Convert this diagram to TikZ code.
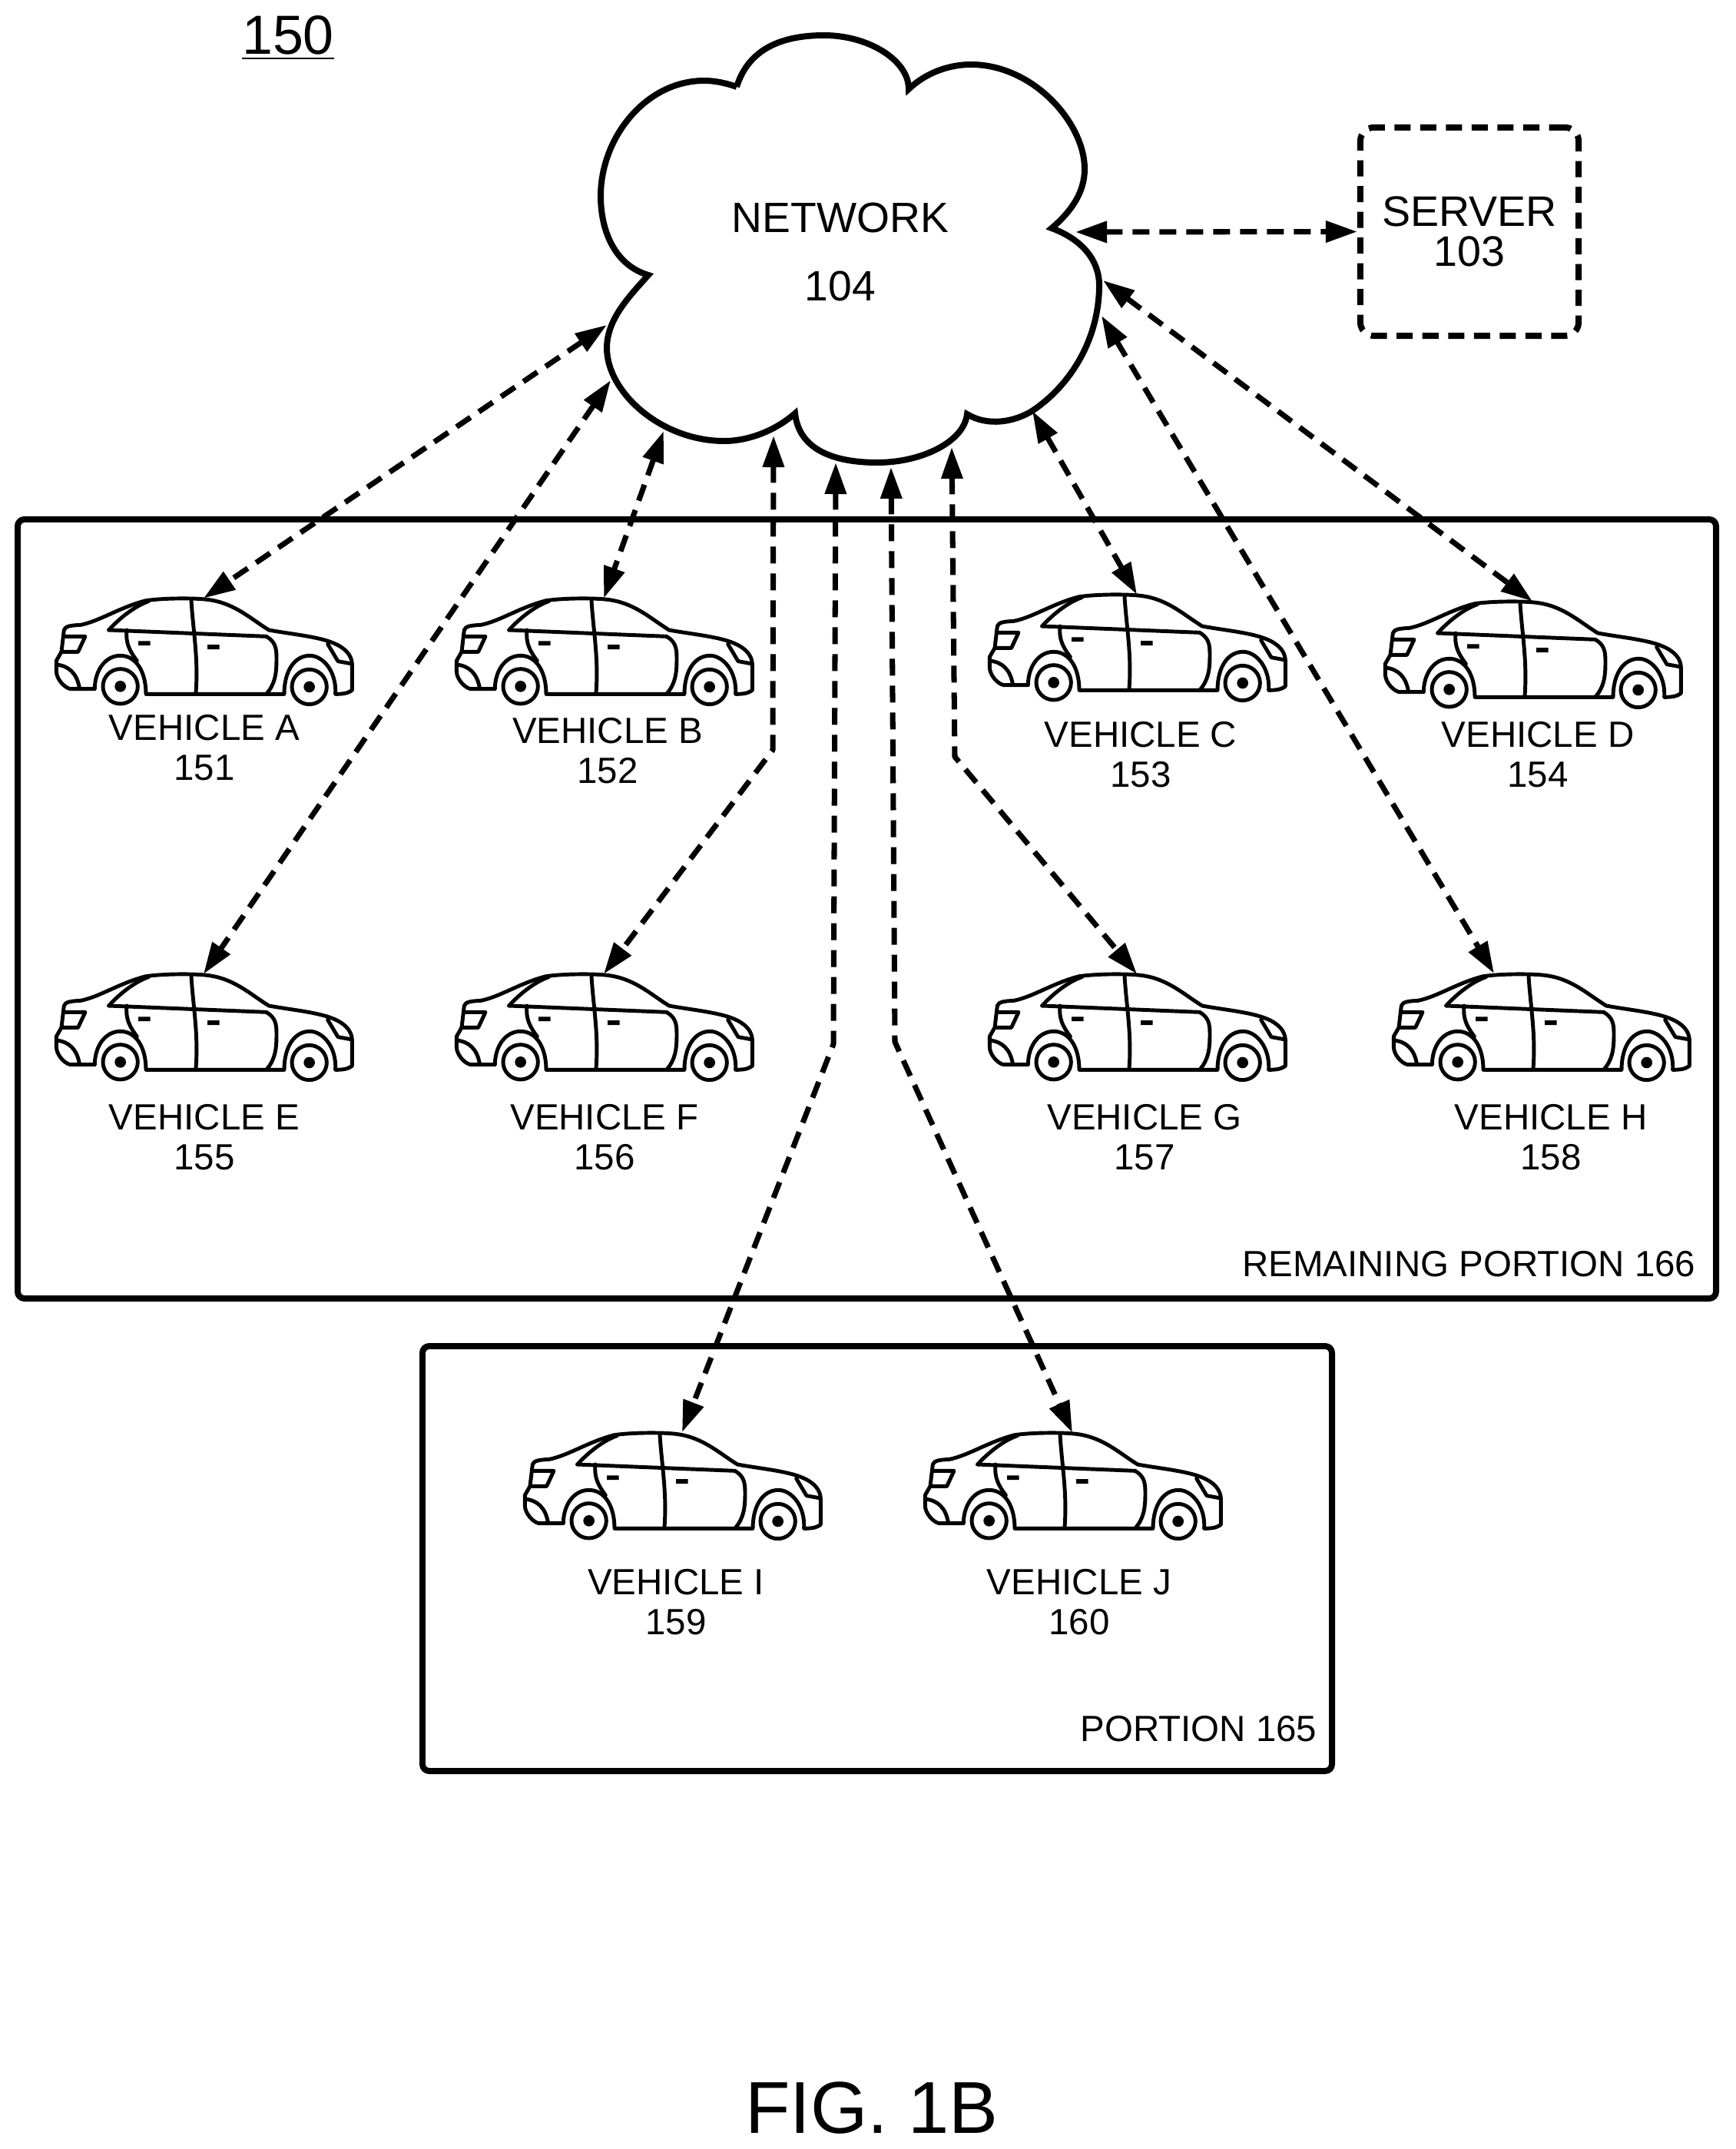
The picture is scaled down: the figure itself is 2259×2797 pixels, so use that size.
\documentclass[tikz,border=0pt]{standalone}
\usepackage{fontspec}
\setmainfont{Liberation Sans}
\usetikzlibrary{arrows.meta, positioning}
\tikzset{
  x=0.01cm,
  y=-0.01cm,
  >={Triangle[length=0.41cm, width=0.27cm]},
  box/.style={line width=2.27pt, rounded corners=2.5pt},
  link/.style={<->, line width=2pt, line join=round, dash pattern=on 0.22cm off 0.13cm},
  caption/.style={font=\fontsize{13.5}{14.7}\selectfont, align=center, inner sep=0pt},
  car/.pic={
    \begin{scope}[scale=1/3, line width=1.4pt, line join=round, line cap=round]
      \draw (100,240) .. controls (105,225) and (125,222) .. (165,220)
        .. controls (240,205) and (320,150) .. (420,125) .. controls (490,115) and (600,115) .. (650,120)
        .. controls (760,130) and (820,190) .. (900,240) .. controls (980,255) and (1090,265) .. (1150,290)
        .. controls (1200,310) and (1225,340) .. (1225,375) -- (1225,475) .. controls (1205,490) and (1180,490) .. (1160,490)
        .. controls (1165,400) and (1110,340) .. (1060,340) .. controls (1000,340) and (960,400) .. (960,490)
        -- (420,490) .. controls (420,400) and (380,340) .. (320,340) .. controls (260,340) and (220,400) .. (220,470)
        -- (125,470) .. controls (100,465) and (70,430) .. (70,400) -- (70,360) -- (90,325) -- cycle;
      \draw (275,240) .. controls (320,190) and (380,145) .. (430,128);
      \draw (275,240) -- (890,265);
      \draw (597,125) .. controls (605,250) and (625,350) .. (615,485);
      \draw (345,240) .. controls (340,290) and (355,320) .. (385,360);
      \draw (890,265) .. controls (925,285) and (930,310) .. (930,350) .. controls (930,410) and (925,450) .. (890,490);
      \draw (105,265) -- (183,265) -- (155,325) -- (90,325);
      \draw (70,375) .. controls (120,380) and (150,410) .. (160,465);
      \draw (1130,295) -- (1170,362) -- (1225,372);
      \fill (390,283) rectangle (437,300) (660,297) rectangle (707,315);
      \draw (320,460) circle (68);
      \fill (320,460) circle (22);
      \draw (1058,462) circle (68);
      \fill (1058,462) circle (22);
      \coordinate (-roof) at (645,116);
    \end{scope}
  }
}
\begin{document}
\begin{tikzpicture}
    \useasboundingbox (0,0) rectangle (2259,2797);

    \node[font=\fontsize{20.4}{24}\selectfont, inner sep=0pt] (fig) at (375,49) {\underline{150}};

    % network
    \draw[line width=2.27pt, miter limit=4] (959,113) .. controls (975,62) and (1020,46) .. (1073,46)
      .. controls (1130,46) and (1183,78) .. (1183,116)
      .. controls (1205,95) and (1235,84) .. (1264,84)
      .. controls (1345,84) and (1412,160) .. (1412,220)
      .. controls (1412,250) and (1395,275) .. (1369,297)
      .. controls (1410,312) and (1431,340) .. (1431,371)
      .. controls (1431,440) and (1395,500) .. (1345,534)
      .. controls (1320,550) and (1285,555) .. (1259,539)
      .. controls (1255,575) and (1200,602) .. (1142,602)
      .. controls (1085,602) and (1040,585) .. (1035,538)
      .. controls (1010,560) and (975,574) .. (943,574)
      .. controls (860,574) and (790,510) .. (790,453)
      .. controls (790,415) and (820,385) .. (844,358)
      .. controls (800,345) and (782,300) .. (782,255)
      .. controls (782,180) and (840,105) .. (917,105)
      .. controls (930,105) and (945,108) .. (959,113);
    \node[font=\fontsize{15.7}{18}\selectfont, inner sep=0pt] (network) at (1094,283) {NETWORK};
    \node[font=\fontsize{15.7}{18}\selectfont, inner sep=0pt] (networknum) at (1094,372) {104};

    \node[draw, box, rounded corners=5pt, dash pattern=on 0.21cm off 0.125cm, minimum width=2.84cm, minimum height=2.71cm,
      font=\fontsize{15.8}{14.7}\selectfont, align=center] (server) at (1913,301.5) {SERVER\\103};

    % portions
    \draw[box] (23,676) rectangle (2234,1690);
    \draw[box] (550,1752) rectangle (1734,2305);
    \node[caption, anchor=east] (remaining) at (2208,1645) {REMAINING PORTION 166};
    \node[caption, anchor=east] (portion) at (1715,2250) {PORTION 165};

    % vehicles
    \pic (carA) at (50,740) {car};
    \pic (carB) at (571,740) {car};
    \pic (carC) at (1265,735) {car};
    \pic (carD) at (1780,744) {car};
    \pic (carE) at (50,1229) {car};
    \pic (carF) at (571,1229) {car};
    \pic (carG) at (1265,1229) {car};
    \pic (carH) at (1791,1229) {car};
    \pic (carI) at (660,1826) {car};
    \pic (carJ) at (1181,1826) {car};

    \node[caption] (nameA) at (266,973) {VEHICLE A\\151};
    \node[caption] (nameB) at (791,977) {VEHICLE B\\152};
    \node[caption] (nameC) at (1485,982) {VEHICLE C\\153};
    \node[caption] (nameD) at (2002,982) {VEHICLE D\\154};
    \node[caption] (nameE) at (266,1480) {VEHICLE E\\155};
    \node[caption] (nameF) at (787,1480) {VEHICLE F\\156};
    \node[caption] (nameG) at (1490,1480) {VEHICLE G\\157};
    \node[caption] (nameH) at (2019,1480) {VEHICLE H\\158};
    \node[caption] (nameI) at (880,2085) {VEHICLE I\\159};
    \node[caption] (nameJ) at (1405,2085) {VEHICLE J\\160};

    % ends on the cloud
    \coordinate (netA) at (790,423);
    \coordinate (netB) at (864,561);
    \coordinate (netC) at (1344,535);
    \coordinate (netD) at (1436,365);
    \coordinate (netE) at (795,495);
    \coordinate (netF) at (1007,567);
    \coordinate (netG) at (1239,582);
    \coordinate (netH) at (1434,411);
    \coordinate (netI) at (1088,602);
    \coordinate (netJ) at (1160,608);
    \coordinate (netS) at (1400,302);
    \coordinate (tipH) at (1945,1267);
    \coordinate (tipI) at (888,1864);

    \draw[link] (netS) -- (server.west);
    \draw[link] (netA) -- (carA-roof);
    \draw[link] (netB) -- (carB-roof);
    \draw[link] (netC) -- (carC-roof);
    \draw[link] (netD) -- (carD-roof);
    \draw[link] (netE) -- (carE-roof);
    \draw[link] (netF) -- (1006,976) -- (carF-roof);
    \draw[link] (netG) -- (1243,985) -- (carG-roof);
    \draw[link] (netH) -- (tipH);
    \draw[link] (netI) -- (1085,1359) -- (tipI);
    \draw[link] (netJ) -- (1165,1356) -- (carJ-roof);

    \node[font=\fontsize{27.2}{30}\selectfont, inner sep=0pt] (title) at (1135,2744) {FIG. 1B};
\end{tikzpicture}
\end{document}
